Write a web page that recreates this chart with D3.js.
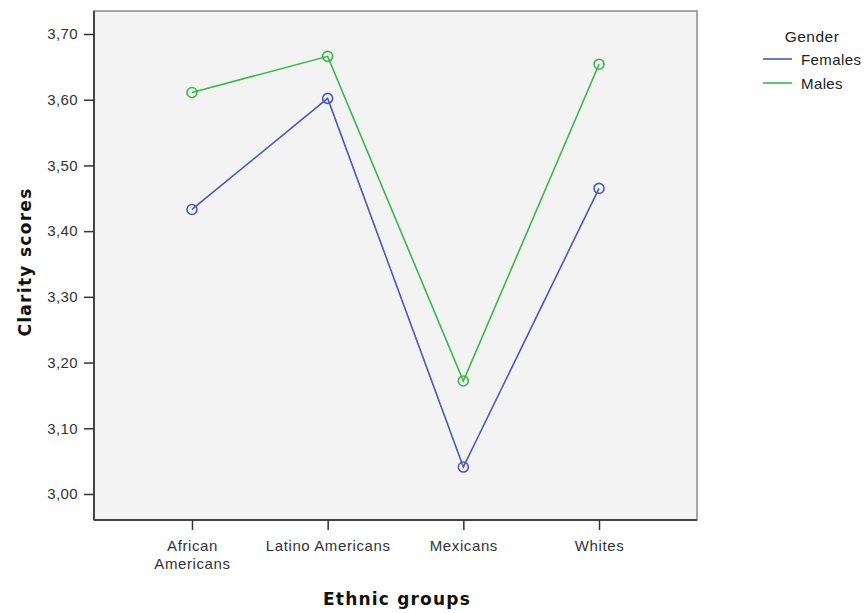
<!DOCTYPE html>
<html><head><meta charset="utf-8">
<script src="https://cdn.jsdelivr.net/npm/d3@7"></script>
<style>body{margin:0;background:#fff}svg{display:block}text{font-family:"Liberation Sans",Arial,sans-serif}</style>
</head><body><svg id="c" width="866" height="613"></svg>
<script>
const categories = ["African Americans","Latino Americans","Mexicans","Whites"];
const categoryLines = [["African","Americans"],["Latino Americans"],["Mexicans"],["Whites"]];
const females = [3.433, 3.602, 3.041, 3.465];
const males = [3.611, 3.666, 3.172, 3.654];
const yTicks = [3.00,3.10,3.20,3.30,3.40,3.50,3.60,3.70];
const seriesNames = ["Females","Males"];
const colors = ["#4a5bb0","#3cb54a"];

const svg = d3.select("#c");
const L=94, R=697, T=11, B=520;
const x = d3.scalePoint().domain(categories).range([L,R]).padding(0.722);
const y = d3.scaleLinear().domain([2.9604,3.735]).range([B,T]);

svg.append("rect").attr("x",L).attr("y",T).attr("width",R-L).attr("height",B-T)
  .attr("fill","#f3f3f3").attr("stroke","#8a8a8a").attr("stroke-width",1.5);

// y axis
const ya = svg.append("g").attr("transform",`translate(${L},0)`)
  .call(d3.axisLeft(y).tickValues(yTicks).tickSize(10).tickSizeOuter(0).tickFormat(d=>d3.format(".2f")(d).replace(".",",")));
ya.select(".domain").attr("d",`M0,${T}V${B}`).attr("stroke","#444").attr("stroke-width",2);
ya.selectAll(".tick line").attr("stroke","#333").attr("stroke-width",1.5);
ya.selectAll(".tick text").attr("font-size",15).attr("letter-spacing",0.4).attr("fill","#333").attr("x",-16);

// x axis
const xa = svg.append("g").attr("transform",`translate(0,${B})`)
  .call(d3.axisBottom(x).tickSize(10).tickSizeOuter(0).tickFormat(""));
xa.select(".domain").attr("d",`M${L},0H${R}`).attr("stroke","#444").attr("stroke-width",2);
xa.selectAll(".tick line").attr("stroke","#333").attr("stroke-width",1.5);
xa.selectAll(".tick").each(function(d,i){
  const t = d3.select(this).append("text").attr("fill","#333").attr("font-size",15).attr("letter-spacing",0.6).attr("text-anchor","middle");
  categoryLines[i].forEach((ln,j)=>t.append("tspan").attr("x",0).attr("y",31+j*18).text(ln));
});

const line = d3.line().x((d,i)=>x(categories[i])).y(d=>y(d));
[females,males].forEach((s,k)=>{
  svg.append("path").datum(s).attr("d",line).attr("fill","none").attr("stroke",colors[k]).attr("stroke-width",1.6);
  svg.selectAll(null).data(s).enter().append("circle")
    .attr("cx",(d,i)=>x(categories[i])).attr("cy",d=>y(d)).attr("r",5)
    .attr("fill","none").attr("stroke",colors[k]).attr("stroke-width",1.6);
});

// axis titles
svg.append("text").attr("transform","translate(31,262) rotate(-90)").attr("text-anchor","middle")
  .style("font-family","'DejaVu Sans'").style("font-size","17px").style("font-weight","bold").style("letter-spacing","1.3px").attr("fill","#111").text("Clarity scores");
svg.append("text").attr("x",397).attr("y",605).attr("text-anchor","middle")
  .style("font-family","'DejaVu Sans'").style("font-size","17px").style("font-weight","bold").style("letter-spacing","1.2px").attr("fill","#111").text("Ethnic groups");

// legend
svg.append("text").attr("x",812).attr("y",42).attr("text-anchor","middle").attr("font-size",15.5).attr("letter-spacing",0.5).attr("fill","#222").text("Gender");
seriesNames.forEach((n,k)=>{
  const yy = 59 + k*24;
  svg.append("line").attr("x1",763).attr("x2",792).attr("y1",yy).attr("y2",yy).attr("stroke",colors[k]).attr("stroke-width",1.6);
  svg.append("text").attr("x",801).attr("y",yy+6).attr("font-size",15).attr("letter-spacing",0.4).attr("fill","#222").text(n);
});
</script></body></html>
